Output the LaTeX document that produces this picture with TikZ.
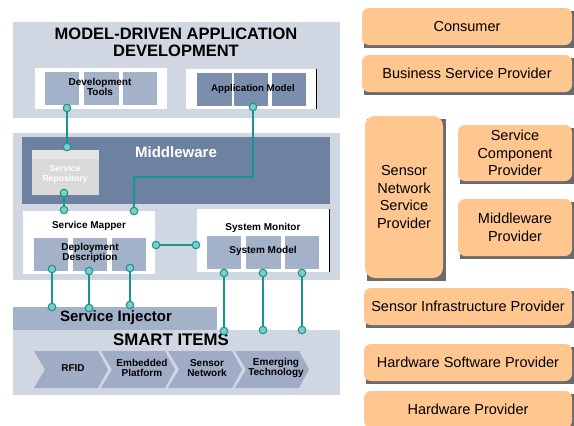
\documentclass[tikz,border=0pt]{standalone}
\usepackage{fontspec}
\setmainfont{Liberation Sans}
\usetikzlibrary{backgrounds,calc}
\definecolor{panelc}{HTML}{D0D6E2}
\definecolor{sqlight}{HTML}{A3B1C9}
\definecolor{sqdark}{HTML}{7B8EAE}
\definecolor{mwdark}{HTML}{6D81A1}
\definecolor{repoc}{HTML}{D9D9D9}
\definecolor{repotop}{HTML}{E4E4E4}
\definecolor{tealc}{HTML}{17968F}
\definecolor{dotfill}{HTML}{7ECDC8}
\definecolor{orng}{HTML}{FFC68F}
\definecolor{shad}{HTML}{6B6B6B}
\definecolor{chev}{HTML}{A0ABC6}
\tikzset{
  blk/.style={inner sep=0pt, outer sep=0pt},
  panel/.style={blk, fill=panelc},
  wbox/.style={blk, fill=white},
  sql/.style={blk, fill=sqlight, minimum width=34, minimum height=33},
  sqd/.style={blk, fill=sqdark, minimum width=34, minimum height=33},
  lbl/.style={font=\bfseries\fontsize{10}{10.5}\selectfont, align=center, text=black, inner sep=0pt},
  big/.style={font=\bfseries\fontsize{16.5}{17}\selectfont, align=center, text=black, inner sep=0pt},
  mid/.style={font=\bfseries\fontsize{15}{17}\selectfont, align=center, inner sep=0pt},
  dot/.style={circle, draw=tealc, fill=dotfill, line width=1.1pt, minimum size=7.5, inner sep=0pt},
  wire/.style={draw=tealc, line width=1.5pt},
  prov/.style={rounded corners=7, fill=orng, inner sep=0pt, outer sep=0pt, font=\fontsize{14.5}{17.7}\selectfont, align=center},
  chevshape/.style={fill=chev},
}
\begin{document}
\begin{tikzpicture}[x=1pt,y=-1pt]
\useasboundingbox (0,0) rectangle (574,426);

% ---------------- Model-driven application development
\node[panel, minimum width=327, minimum height=96] (mdad) at (176.5,70) {};
\node[big] (mdadt) at (176,42.5) {MODEL-DRIVEN APPLICATION\\DEVELOPMENT};
\node[wbox, minimum width=132, minimum height=41] (devbox) at (101,88.5) {};
\node[sql] (d1) at (62,88.5) {};
\node[sql, minimum width=35] (d2) at (101.5,88.5) {};
\node[sql] (d3) at (140,88.5) {};
\node[lbl] (devt) at (100,87) {Development\\Tools};
\node[wbox, minimum width=130, minimum height=40] (appbox) at (251,89) {};
\draw[black, line width=0.8pt] (appbox.north east) -- (appbox.south east);
\node[sqd, minimum width=35] (a1) at (214.5,89.5) {};
\node[sqd] (a2) at (251,89.5) {};
\node[sqd] (a3) at (289,89.5) {};
\node[lbl, font=\bfseries\fontsize{9.7}{10.5}\selectfont] (appt) at (253,89) {Application Model};

% ---------------- Middleware block
\node[panel, minimum width=327, minimum height=147] (midp) at (176.5,206.5) {};
\node[blk, fill=mwdark, minimum width=308, minimum height=67] (mw) at (176,170.5) {};
\node[mid, text=white] (mwt) at (176,152) {Middleware};
\node[blk, fill=repoc, minimum width=67, minimum height=45] (repo) at (65.5,172.5) {};
\fill[repotop] (repo.north west) rectangle ($(repo.north east)+(0,9)$);
\node[lbl, text=white, font=\bfseries\fontsize{8.6}{10.5}\selectfont] (repot) at (65,174.5) {Service\\Repository};

\node[wbox, minimum width=132, minimum height=63] (mapper) at (89,242.5) {};
\node[lbl] (mappert) at (89,226) {Service Mapper};
\node[sql] (m1) at (51,254.5) {};
\node[sql] (m2) at (90,254.5) {};
\node[sql] (m3) at (129,254.5) {};
\node[lbl] (dept) at (90,253) {Deployment\\Description};

\node[wbox, minimum width=132, minimum height=63] (monitor) at (263,240.5) {};
\draw[black, line width=0.8pt] (monitor.north east) -- (monitor.south east);
\node[lbl] (monitort) at (263,228) {System Monitor};
\node[sql] (s1) at (224,252.5) {};
\node[sql, minimum width=35] (s2) at (263.5,252.5) {};
\node[sql] (s3) at (302,252.5) {};
\node[lbl] (smt) at (263,251) {System Model};

% ---------------- Service injector and smart items
\node[blk, fill=sqlight, minimum width=204, minimum height=23] (inj) at (115,318.5) {};
\node[mid] (injt) at (116,318) {Service Injector};
\node[panel, minimum width=327, minimum height=65] (smart) at (176.5,362.5) {};
\node[big, font=\bfseries\fontsize{16.8}{17}\selectfont] (smartt) at (171,340) {SMART ITEMS};
\foreach \x in {34,101,168,235} {
  \fill[chevshape] (\x,351) -- (\x+64,351) -- (\x+74,369.5) -- (\x+64,388) -- (\x,388) -- (\x+11,369.5) -- cycle;
}
\node[lbl] (c1) at (73,368) {RFID};
\node[lbl] (c2) at (142,368) {Embedded\\Platform};
\node[lbl] (c3) at (207,368) {Sensor\\Network};
\node[lbl] (c4) at (276,368) {Emerging\\Technology};

% ---------------- Connectors
\node[dot] (pDev) at (67,108) {};
\node[dot] (pRepoT) at (67,147) {};
\node[dot] (pRepoB) at (64,193) {};
\node[dot] (pMapT) at (64,210) {};
\node[dot] (pApp) at (253,107) {};
\node[dot] (pMapT2) at (134,211) {};
\coordinate (bend) at (253,177);
\node[dot] (pMapR) at (156,245) {};
\node[dot] (pMonL) at (196,245) {};
\node[dot] (pM1) at (52,269) {};
\node[dot] (pM2) at (89,271) {};
\node[dot] (pM3) at (130,268) {};
\node[dot] (pI1) at (52,307) {};
\node[dot] (pI2) at (89,308) {};
\node[dot] (pI3) at (130,305) {};
\node[dot] (pS1) at (224,273) {};
\node[dot] (pS2) at (263,273) {};
\node[dot] (pS3) at (302,273) {};
\node[dot] (pT1) at (224,331) {};
\node[dot] (pT2) at (263,330) {};
\node[dot] (pT3) at (302,330) {};

\draw[wire] (pDev) -- (pRepoT);
\draw[wire] (pRepoB) -- (pMapT);
\draw[wire] (pApp) -- (bend) -| (pMapT2);
\draw[wire] (pMapR) -- (pMonL);
\draw[wire] (pM1) -- (pI1);
\draw[wire] (pM2) -- (pI2);
\draw[wire] (pM3) -- (pI3);
\draw[wire] (pS1) -- (pT1);
\draw[wire] (pS2) -- (pT2);
\draw[wire] (pS3) -- (pT3);

% ---------------- Provider roles
\node[prov, minimum width=210, minimum height=37] (cons) at (467,26.5) {Consumer};
\node[prov, minimum width=210, minimum height=37] (bsp) at (467,73.5) {Business Service Provider};
\node[prov, rounded corners=10, minimum width=78, minimum height=162] (snsp) at (404,197) {Sensor\\Network\\Service\\Provider};
\node[prov, minimum width=114, minimum height=56] (scp) at (515,153) {Service\\Component\\Provider};
\node[prov, minimum width=114, minimum height=57] (mwp) at (515,227.5) {Middleware\\Provider};
\node[prov, minimum width=208, minimum height=37] (sip) at (468,306.5) {Sensor Infrastructure Provider};
\node[prov, minimum width=208, minimum height=37] (hsp) at (468,362.5) {Hardware Software Provider};
\node[prov, minimum width=208, minimum height=37] (hp) at (468,409.5) {Hardware Provider};
\begin{scope}[on background layer]
\foreach \n in {cons,bsp,snsp,scp,mwp,sip,hsp,hp} {
  \fill[shad] ($(\n.south west)+(2,3)$) rectangle ($(\n.north east)+(3,3)$);
}
\end{scope}
\end{tikzpicture}
\end{document}
